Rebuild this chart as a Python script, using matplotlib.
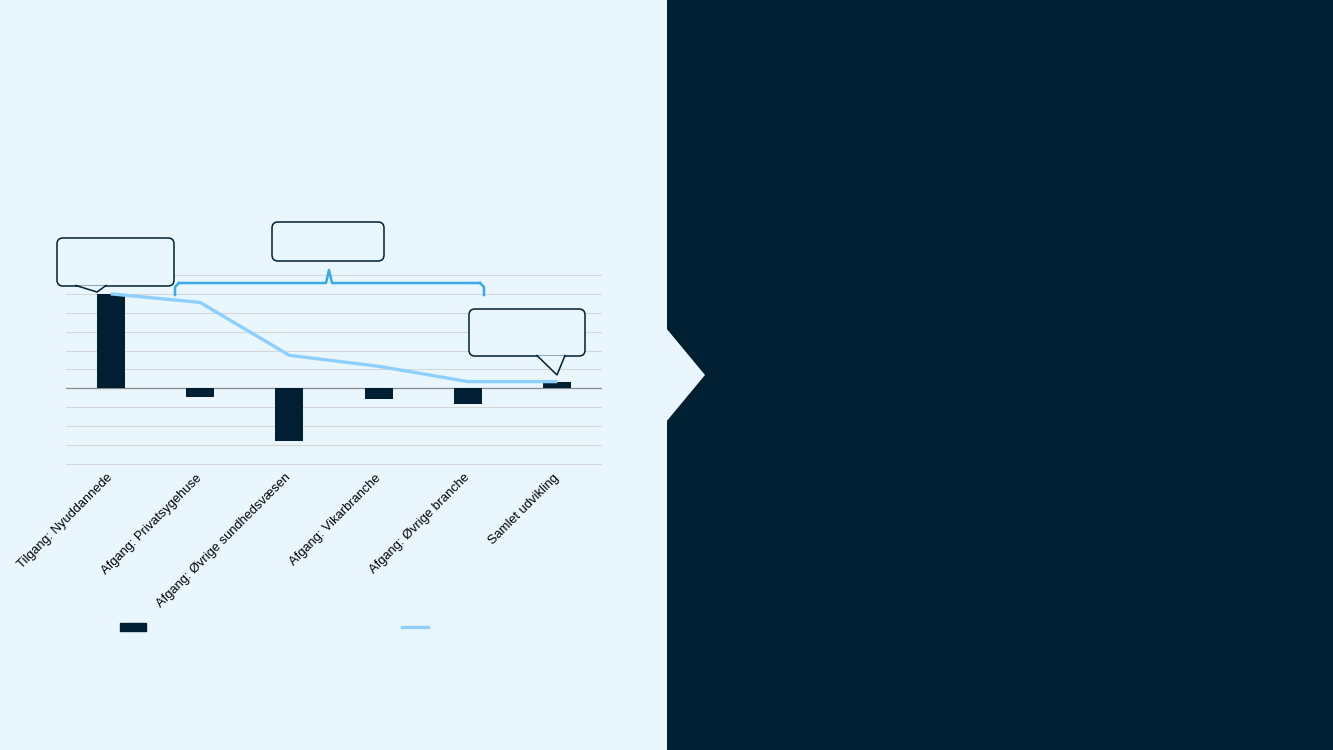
import numpy as np
import matplotlib.pyplot as plt
from matplotlib.patches import Polygon, FancyBboxPatch, Rectangle
from matplotlib.lines import Line2D

categories = ['Tilgang: Nyuddannede', 'Afgang: Privatsygehuse', 'Afgang: Øvrige sundhedsvæsen',
              'Afgang: Vikarbranche', 'Afgang: Øvrige branche', 'Samlet udvikling']
bar_values = [5.0, -0.45, -2.8, -0.57, -0.85, 0.33]
line_values = [5.0, 4.55, 1.75, 1.17, 0.36, 0.36]

light_bg = '#EAF6FE'
dark_bg = '#001F33'
line_col = '#8DCFFF'
brace_col = '#3AAAE8'

plt.rcParams['font.family'] = ['Liberation Sans', 'DejaVu Sans']

W, H = 1333, 750
fig = plt.figure(figsize=(W / 100, H / 100), dpi=100)
fig.patch.set_facecolor(light_bg)

# background panels in figure pixels
bg = fig.add_axes([0, 0, 1, 1], zorder=0)
bg.set_xlim(0, W)
bg.set_ylim(H, 0)
bg.axis('off')
bg.add_patch(Rectangle((667, 0), W - 667, H, color=dark_bg, lw=0))
bg.add_patch(Polygon([(666, 328), (705, 375), (666, 422)], closed=True, color=light_bg, lw=0))

# main chart axes: x 66..602, y 274..465 (ylim padded a little so edge gridlines show)
ax = fig.add_axes([66 / W, 1 - 465 / H, (602 - 66) / W, (465 - 274) / H], zorder=1)
ax.set_facecolor('none')
x = np.arange(len(categories))
ax.set_xlim(-0.5, len(categories) - 0.5)
ax.set_ylim(-4.05, 6.05)
ax.set_yticks(np.arange(-4, 7, 1))
ax.yaxis.grid(True, color='#D6D6D6', lw=0.8)
ax.set_axisbelow(True)
ax.tick_params(axis='y', left=False, labelleft=False)
ax.tick_params(axis='x', length=0, pad=8)
for s in ax.spines.values():
    s.set_visible(False)
ax.axhline(0, color='#8C8C8C', lw=0.9, zorder=2)

ax.bar(x, bar_values, width=0.31, color=dark_bg, zorder=3)
ax.plot(x, line_values, color=line_col, lw=2.4, zorder=4, solid_capstyle='butt')
ax.set_xticks(x)
ax.set_xticklabels(categories, rotation=45, ha='right', va='center',
                   rotation_mode='anchor', fontsize=9.3)

# overlay for callouts and brace
ov = fig.add_axes([0, 0, 1, 1], zorder=5)
ov.set_xlim(0, W)
ov.set_ylim(H, 0)
ov.axis('off')

def callout(x0, y0, x1, y1, tail=None):
    box = FancyBboxPatch((x0, y0), x1 - x0, y1 - y0, boxstyle='round,pad=0,rounding_size=6',
                         fc=light_bg, ec=dark_bg, lw=1.1, zorder=1)
    ov.add_patch(box)
    if tail:
        ov.add_patch(Polygon(tail, closed=True, fc=light_bg, ec='none', zorder=2))
        tx, ty = zip(*tail)
        ov.plot(tx, ty, color=dark_bg, lw=1.1, zorder=3, solid_joinstyle='miter')

callout(57, 238, 174, 286, [(76, 285.5), (97, 292), (106, 285.5)])
callout(272, 222, 384, 261)
callout(469, 309, 585, 356, [(537, 355.5), (557, 375), (565, 355.5)])

# brace
bx0, bx1, by, mid = 175, 484, 283, 329
ov.plot([bx0, bx0, bx0 + 4], [295, by + 4, by], color=brace_col, lw=1.8, solid_joinstyle='round')
ov.plot([bx0 + 4, mid - 3, mid, mid + 3, bx1 - 4], [by, by, 270, by, by], color=brace_col, lw=1.8)
ov.plot([bx1 - 4, bx1, bx1], [by, by + 4, 295], color=brace_col, lw=1.8, solid_joinstyle='round')

# legend without text
fig.legend([Rectangle((0, 0), 1, 1, color=dark_bg)], [''], loc='center',
           bbox_to_anchor=(133 / W, 1 - 628 / H), frameon=False,
           handlelength=1.85, handleheight=0.45, handletextpad=0)
fig.legend([Line2D([0], [0], color=line_col, lw=2.4)], [''], loc='center',
           bbox_to_anchor=(415 / W, 1 - 628 / H), frameon=False,
           handlelength=1.85, handletextpad=0)

fig.savefig('out.png', dpi=100, facecolor=fig.get_facecolor())
